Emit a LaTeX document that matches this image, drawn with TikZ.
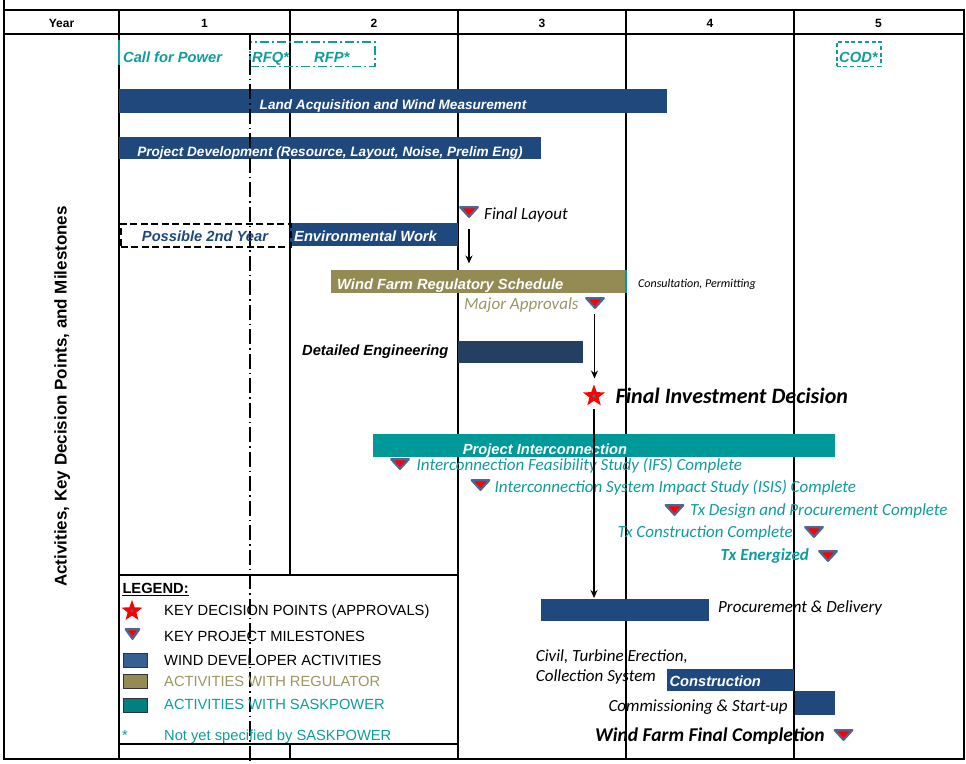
\documentclass[tikz,border=0pt]{standalone}
\usepackage{fontspec}
\setmainfont{Liberation Sans}
\newfontfamily\calfont{Carlito}
\usetikzlibrary{shapes.geometric,arrows.meta}
\definecolor{navy}{HTML}{1F497D}
\definecolor{navydk}{HTML}{243F60}
\definecolor{olive}{HTML}{948A54}
\definecolor{oltxt}{HTML}{9C9462}
\definecolor{tealbar}{HTML}{009999}
\definecolor{tealtxt}{HTML}{0E9C9C}
\definecolor{legnavy}{HTML}{376092}
\definecolor{legteal}{HTML}{008080}
\definecolor{msblue}{HTML}{4A6796}
\newcommand\fsz[1]{\fontsize{#1}{#1}\selectfont}
% milestone: [half width]{name}{centre x}{top y}
\newcommand\mstone[4][10]{%
  \coordinate (#2) at (#3,#4);
  \filldraw[mst] (#2) ++(-#1+1.2,1.2) -- ++(2*#1-2.4,0) -- ++(-#1+1.2,9.6) -- cycle;}
\begin{document}
\begin{tikzpicture}[x=1pt,y=-1pt,
  bar/.style={anchor=north west, inner sep=0pt, outer sep=0pt, draw=none},
  wt/.style={anchor=base west, inner sep=0pt, text=white, font=\fsz{14.7}\bfseries\itshape},
  ct/.style={anchor=base west, inner sep=0pt, font=\calfont\fsz{17}\itshape},
  lt/.style={anchor=base west, inner sep=0pt, font=\fsz{14.7}},
  hd/.style={anchor=base, inner sep=0pt, font=\fsz{12}\bfseries},
  tt/.style={anchor=base west, inner sep=0pt, text=tealtxt, font=\fsz{14.7}\bfseries\itshape},
  arr/.style={-{Stealth[length=8pt,width=7pt]}, line width=1.8pt},
  mst/.style={draw=msblue, fill=red, line width=2.2pt, line join=round},
  grid/.style={line width=2pt},
  legsq/.style={anchor=north west, inner sep=0pt, draw=black!80, line width=0.8pt, minimum width=24.5pt, minimum height=14pt},
  ]
\useasboundingbox (0,0) rectangle (966,763);

% ---------- grid ----------
\draw[grid] (4,0) -- (4,759);
\draw[grid] (3,10) -- (964.5,10) (3,33.5) -- (964.5,33.5) (3,759) -- (964.5,759);
\draw[grid] (963.5,10) -- (963.5,759);
\draw[grid] (119,10) -- (119,759);
\draw[grid] (290,10) -- (290,33.5);
\draw[line width=1.2pt] (290,33.5) -- (290,575) (290,744) -- (290,759);
\draw[grid] (458,10) -- (458,759) (626,10) -- (626,759) (794,10) -- (794,759);
\draw[line width=1.5pt] (119,575) -- (458,575) (119,744) -- (458,744);
\draw[tealtxt, line width=2pt] (119,40) -- (119,65);

% ---------- header ----------
\node[hd] (hy) at (61.5,27.5) {Year};
\node[hd] (h1) at (204.5,27.5) {1};
\node[hd] (h2) at (374,27.5) {2};
\node[hd] (h3) at (542,27.5) {3};
\node[hd] (h4) at (710,27.5) {4};
\node[hd] (h5) at (878.5,27.5) {5};

\node[rotate=90, anchor=base, inner sep=0pt, font=\fsz{17}\bfseries] (side) at (66.5,396.5)
  {Activities, Key Decision Points, and Milestones};

% ---------- bars ----------
\node[bar, fill=navy, minimum width=548pt, minimum height=23.5pt] (land) at (119,89) {};
\node[bar, fill=navy, minimum width=422pt, minimum height=22pt] (pdev) at (119,136.5) {};
\node[bar, fill=navy, minimum width=168pt, minimum height=23pt] (env) at (290,222.5) {};
\node[bar, fill=olive, minimum width=295pt, minimum height=23.5pt] (reg) at (331,269.5) {};
\node[bar, fill=navydk, minimum width=125pt, minimum height=22.5pt] (deng) at (458,340.5) {};
\node[bar, fill=tealbar, minimum width=462pt, minimum height=23.5pt] (pint) at (373,433.5) {};
\node[bar, fill=navy, minimum width=168pt, minimum height=22.5pt] (proc) at (541,598.5) {};
\node[bar, fill=navy, minimum width=127pt, minimum height=22.5pt] (cons) at (667,668.5) {};
\node[bar, fill=navy, minimum width=40.5pt, minimum height=24pt] (comm) at (794.5,691) {};
\draw[tealbar, line width=2pt] (626,269.5) -- (626,293);

% ---------- dashed boxes ----------
\node[anchor=north west, inner sep=0pt, minimum width=125pt, minimum height=24.5pt, draw=tealtxt, line width=1.5pt,
  dash pattern=on 9pt off 3pt on 2pt off 3pt] (rfbox) at (249,41) {};
\node[anchor=north west, inner sep=0pt, minimum width=44pt, minimum height=24.5pt, draw=tealtxt, line width=1.5pt,
  dash pattern=on 4pt off 2.7pt] (codbox) at (836,41) {};
\node[anchor=north west, inner sep=0pt, minimum width=170pt, minimum height=23pt, draw=black, line width=2.7pt,
  dash pattern=on 7pt off 3.5pt] (p2box) at (119.5,222.5) {};

% dash-dot year line
\draw[line width=1.6pt, dash pattern=on 15pt off 4pt on 1.5pt off 4pt] (250,35) -- (250,763);

% ---------- texts ----------
\node[tt] (cfp) at (123,62) {Call for Power};
\node[tt] (rfq) at (252,62) {RFQ*};
\node[tt] (rfp) at (314,62) {RFP*};
\node[tt] (cod) at (839,62) {COD*};
\node[anchor=base, inner sep=0pt, text=white, font=\fsz{13.6}\bfseries\itshape] (landt) at (393,109) {Land Acquisition and Wind Measurement};
\node[anchor=base, inner sep=0pt, text=white, font=\fsz{13.6}\bfseries\itshape] (pdevt) at (330,156.5) {Project Development (Resource, Layout, Noise, Prelim Eng)};
\node[anchor=base, inner sep=0pt, text=navy, font=\fsz{14.7}\bfseries\itshape] (p2t) at (205,241) {Possible 2nd Year};
\node[wt] (envt) at (294,241) {Environmental Work};
\node[ct] (flt) at (484,219.3) {Final Layout};
\node[wt] (regt) at (337,289) {Wind Farm Regulatory Schedule};
\node[ct, font=\calfont\fsz{12}\itshape] (cpt) at (638,287.5) {Consultation, Permitting};
\node[ct, text=oltxt] (mat) at (464,309.5) {Major Approvals};
\node[anchor=base west, inner sep=0pt, font=\fsz{14.7}\bfseries\itshape] (dengt) at (302,355.5) {Detailed Engineering};
\node[anchor=base west, inner sep=0pt, font=\calfont\fsz{22}\bfseries\itshape] (fidt) at (615.5,403) {Final Investment Decision};
\node[wt] (pintt) at (462.7,454) {Project Interconnection};
\node[ct, text=tealtxt] (ifst) at (416.5,470) {Interconnection Feasibility Study (IFS) Complete};
\node[ct, text=tealtxt] (isist) at (494.5,492) {Interconnection System Impact Study (ISIS) Complete};
\node[ct, text=tealtxt] (txdt) at (690,515) {Tx Design and Procurement Complete};
\node[ct, text=tealtxt] (txct) at (617.5,537) {Tx Construction Complete};
\node[ct, text=tealtxt, font=\calfont\fsz{17}\bfseries\itshape] (txet) at (720.5,560) {Tx Energized};
\node[ct] (proct) at (718,612.7) {Procurement \& Delivery};
\node[ct] (civt) at (535.7,661) {Civil, Turbine Erection,};
\node[ct] (colt) at (535.7,681.7) {Collection System};
\node[wt] (const) at (669.3,686.7) {Construction};
\node[ct] (commt) at (608.3,711.7) {Commissioning \& Start-up};
\node[anchor=base west, inner sep=0pt, font=\calfont\fsz{19.5}\bfseries\itshape] (wfct) at (595,741.7) {Wind Farm Final Completion};

% ---------- milestones and decision ----------
\mstone{fl}{469}{206}
\mstone{ma}{595}{297}
\mstone{ifs}{400}{458}
\mstone{isis}{480.5}{479}
\mstone{txd}{674.5}{504}
\mstone{txc}{814}{526}
\mstone{txe}{828}{550}
\mstone{wfc}{843.5}{729}
\node[star, star points=5, star point ratio=2.4, fill=red, inner sep=0pt, minimum size=23pt] (fid) at (594,396) {};
\fill[msblue] (fid.center) circle (1.8pt);

% ---------- arrows ----------
\coordinate (flS) at (469,229);
\coordinate (regN) at (469,263.5);
\coordinate (maS) at (594.5,314);
\coordinate (fidN) at (594.5,378.5);
\coordinate (fidS) at (594,409);
\coordinate (procN) at (594,598);
\draw[arr] (flS) -- (regN);
\draw[arr] (maS) -- (fidN);
\draw[arr] (fidS) -- (procN);

% ---------- legend ----------
\node[anchor=base west, inner sep=0pt, font=\fsz{14.7}\bfseries] (leg) at (122.3,593.3) {LEGEND:};
\draw[line width=1.3pt] ([yshift=-2.4pt]leg.base west) -- ([yshift=-2.4pt]leg.base east);
\node[star, star points=5, star point ratio=2.4, fill=red, inner sep=0pt, minimum size=22pt] (lstar) at (132,611) {};
\fill[msblue] (lstar.center) circle (1.6pt);
\mstone[8]{lms}{132.5}{628}
\node[legsq, fill=legnavy] (sq1) at (122.5,653) {};
\node[legsq, fill=olive] (sq2) at (122.5,674) {};
\node[legsq, fill=legteal] (sq3) at (122.5,697.5) {};
\node[lt] (l1) at (164,615.7) {KEY DECISION POINTS (APPROVALS)};
\node[lt] (l2) at (164,641) {KEY PROJECT MILESTONES};
\node[lt] (l3) at (164,665) {WIND DEVELOPER ACTIVITIES};
\node[lt, text=oltxt] (l4) at (164,686) {ACTIVITIES WITH REGULATOR};
\node[lt, text=tealtxt] (l5) at (164,709.3) {ACTIVITIES WITH SASKPOWER};
\node[lt, text=tealtxt] (l6a) at (122,740) {*};
\node[lt, text=tealtxt] (l6) at (164,740) {Not yet specified by SASKPOWER};
\end{tikzpicture}
\end{document}
